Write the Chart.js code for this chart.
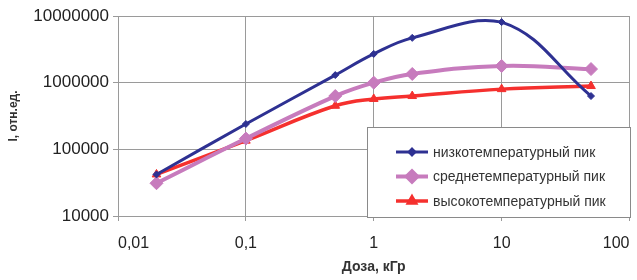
<!DOCTYPE html>
<html>
<head>
<meta charset="utf-8">
<script src="https://cdn.jsdelivr.net/npm/chart.js@4/dist/chart.umd.min.js"></script>
<style>
  html, body { margin: 0; padding: 0; background: #fff; }
  #wrap { width: 637px; height: 280px; }
</style>
</head>
<body>
<div id="wrap"><canvas id="chart"></canvas></div>
<script>
const doses = [0.02, 0.1, 0.5, 1, 2, 10, 50];
const lowPeak = [42000, 240000, 1300000, 2700000, 4700000, 8100000, 630000];
const midPeak = [31000, 145000, 630000, 1000000, 1350000, 1780000, 1600000];
const highPeak = [42000, 135000, 450000, 570000, 630000, 800000, 890000];

const seriesNames = ['низкотемпературный пик', 'среднетемпературный пик', 'высокотемпературный пик'];
const xTickValues = [0.01, 0.1, 1, 10, 100];
const xTickLabels = ['0,01', '0,1', '1', '10', '100'];
const yTickValues = [10000, 100000, 1000000, 10000000];
const yTickLabels = ['10000', '100000', '1000000', '10000000'];

const toPoints = (ys) => doses.map((d, i) => ({ x: d, y: ys[i] }));

// legend drawn in a box over the plot, bottom right
const boxLegend = {
    id: 'boxLegend',
    afterDraw(chart) {
        const ctx = chart.ctx;
        const x0 = 367, y0 = 127, w = 263, h = 90;
        ctx.save();
        ctx.fillStyle = '#fff';
        ctx.fillRect(x0, y0, w, h);
        ctx.strokeStyle = '#8a8a8a';
        ctx.lineWidth = 1;
        ctx.strokeRect(x0 + 0.5, y0 + 0.5, w, h);
        chart.data.datasets.forEach((ds, i) => {
            const y = 152 + i * 24.5;
            ctx.strokeStyle = ds.borderColor;
            ctx.lineWidth = ds.borderWidth;
            ctx.beginPath();
            ctx.moveTo(396, y);
            ctx.lineTo(428, y);
            ctx.stroke();
            Chart.helpers.drawPoint(ctx, {
                pointStyle: ds.pointStyle,
                radius: ds.pointRadius * 0.8,
                borderWidth: 1
            }, 412, y);
            ctx.fillStyle = ds.borderColor;
            ctx.fill();
            ctx.fillStyle = '#333';
            ctx.font = '14px "Liberation Sans", Arial, sans-serif';
            ctx.textBaseline = 'middle';
            ctx.fillText(ds.label, 433, y + 1);
        });
        ctx.restore();
    }
};

const makeSet = (label, data, color, width, style, radius) => ({
    label: label,
    data: toPoints(data),
    borderColor: color,
    backgroundColor: color,
    borderWidth: width,
    pointStyle: style,
    pointRadius: radius,
    pointBorderWidth: 1,
    tension: 0.4
});

new Chart(document.getElementById('chart'), {
    type: 'line',
    data: {
        datasets: [
            makeSet(seriesNames[0], lowPeak, '#2e3192', 3, 'rectRot', 3.5),
            makeSet(seriesNames[1], midPeak, '#c77bbd', 4, 'rectRot', 6.5),
            makeSet(seriesNames[2], highPeak, '#f5302e', 3.5, 'triangle', 5)
        ]
    },
    options: {
        responsive: true,
        maintainAspectRatio: false,
        animation: false,
        layout: { padding: { left: 0, right: 7, top: 16, bottom: 0 } },
        plugins: { legend: { display: false }, tooltip: { enabled: false } },
        scales: {
            x: {
                type: 'logarithmic',
                min: 0.01,
                max: 100,
                afterBuildTicks: (scale) => { scale.ticks = xTickValues.map(v => ({ value: v })); },
                afterFit: (scale) => {
                    scale.height = 64;
                    scale.paddingLeft = 0;
                    scale.paddingRight = 0;
                },
                grid: { color: '#9a9a9a', lineWidth: 1, tickLength: 5 },
                border: { color: '#9a9a9a' },
                ticks: {
                    color: '#222',
                    padding: 13,
                    align: 'inner',
                    maxRotation: 0,
                    font: { family: '"Liberation Sans", Arial, sans-serif', size: 16 },
                    callback: (v) => xTickLabels[xTickValues.indexOf(v)]
                },
                title: {
                    display: true,
                    text: 'Доза, кГр',
                    color: '#333',
                    padding: { top: 0, bottom: 4 },
                    font: { family: '"Liberation Sans", Arial, sans-serif', size: 14, weight: 'bold' }
                }
            },
            y: {
                type: 'logarithmic',
                min: 10000,
                max: 10000000,
                afterBuildTicks: (scale) => { scale.ticks = yTickValues.map(v => ({ value: v })); },
                afterFit: (scale) => { scale.width = 118; },
                grid: { color: '#9a9a9a', lineWidth: 1, tickLength: 5 },
                border: { color: '#9a9a9a' },
                ticks: {
                    color: '#222',
                    padding: 4,
                    font: { family: '"Liberation Sans", Arial, sans-serif', size: 17 },
                    callback: (v) => yTickLabels[yTickValues.indexOf(v)]
                },
                title: {
                    display: true,
                    text: 'I, отн.ед.',
                    color: '#333',
                    padding: { top: 6, bottom: 0 },
                    font: { family: '"Liberation Sans", Arial, sans-serif', size: 12, weight: 'bold' }
                }
            }
        }
    },
    plugins: [boxLegend]
});
</script>
</body>
</html>
